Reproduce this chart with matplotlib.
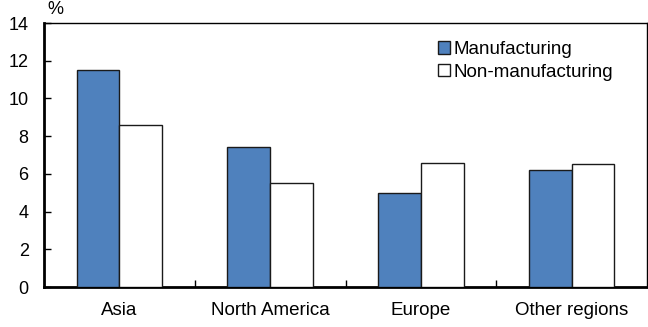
import matplotlib
matplotlib.use("Agg")
import matplotlib.pyplot as plt
import numpy as np
from matplotlib.patches import Patch

plt.rcParams['font.family'] = ['Liberation Sans', 'DejaVu Sans']

regions = ["Asia", "North America", "Europe", "Other regions"]
manufacturing = [11.5, 7.4, 5.0, 6.2]
non_manufacturing = [8.6, 5.5, 6.6, 6.5]
series_names = ["Manufacturing", "Non-manufacturing"]
y_ticks = [0, 2, 4, 6, 8, 10, 12, 14]

fig = plt.figure(figsize=(6.48, 3.27), dpi=100)
ax = fig.add_axes([44/648, 1-287/327, 603/648, 264/327])

x = np.arange(len(regions))
w = 0.283
ax.bar(x - w/2, manufacturing, w, color="#4F81BD", edgecolor="#1a1a1a", linewidth=1.0, zorder=3)
ax.bar(x + w/2, non_manufacturing, w, color="white", edgecolor="#1a1a1a", linewidth=1.0, zorder=3)

ax.set_xlim(-0.5, len(regions) - 0.5)
ax.set_ylim(0, 14)
ax.set_yticks(y_ticks)
ax.set_yticklabels([str(t) for t in y_ticks], fontsize=13)
ax.set_xticks(x)
ax.set_xticklabels(regions, fontsize=13.5)
ax.tick_params(axis='x', which='major', length=0, pad=11)
ax.set_xticks(np.arange(0.5, len(regions) - 1, 1.0), minor=True)
ax.tick_params(axis='x', which='minor', direction='in', length=5, width=1)
ax.tick_params(axis='y', direction='in', length=5, width=1, pad=11)

for side in ['left', 'bottom']:
    ax.spines[side].set_linewidth(2.0)
for side in ['top', 'right']:
    ax.spines[side].set_linewidth(1.0)

fig.text(55/648, 1-9/327, "%", fontsize=13, ha='center', va='center')

handles = [Patch(facecolor="#4F81BD", edgecolor="#1a1a1a", linewidth=1.0),
           Patch(facecolor="white", edgecolor="#1a1a1a", linewidth=1.0)]
ax.legend(handles, series_names, loc='upper left', bbox_to_anchor=(438/648, 1-41/327),
          bbox_transform=fig.transFigure, frameon=False, fontsize=13.5,
          handlelength=0.65, handleheight=0.65, handletextpad=0.2, labelspacing=0.3,
          borderpad=0, borderaxespad=0)

fig.savefig("out.png", dpi=100)
